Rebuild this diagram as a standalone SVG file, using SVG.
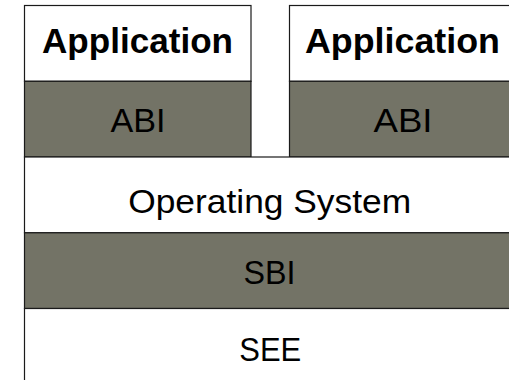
<svg xmlns="http://www.w3.org/2000/svg" width="509" height="380" viewBox="0 0 509 380">
  <style>
    .box { stroke: #1a1a1a; stroke-width: 1.2; }
    .light { fill: #ffffff; }
    .dark { fill: #737366; }
    text { font-family: "Liberation Sans", "DejaVu Sans", sans-serif; fill: #000; text-anchor: middle; }
    .title { font-weight: bold; font-size: 35px; }
    .label { font-size: 33px; }
  </style>

  <!-- left application stack -->
  <g id="app-left">
    <rect class="box light" x="24.5" y="5.5" width="226.5" height="75.8"/>
    <text class="title" x="137.5" y="53" textLength="191" lengthAdjust="spacingAndGlyphs">Application</text>
  </g>
  <g id="abi-left">
    <rect class="box dark" x="24.5" y="81.3" width="226.5" height="75.7"/>
    <text class="label" x="138" y="131.5" textLength="55" lengthAdjust="spacingAndGlyphs">ABI</text>
  </g>

  <!-- right application stack (runs past the right edge) -->
  <g id="app-right">
    <rect class="box light" x="289.5" y="5.5" width="227" height="75.8"/>
    <text class="title" x="402.5" y="53" textLength="195" lengthAdjust="spacingAndGlyphs">Application</text>
  </g>
  <g id="abi-right">
    <rect class="box dark" x="289.5" y="81.3" width="227" height="75.7"/>
    <text class="label" x="403" y="131.5" textLength="59" lengthAdjust="spacingAndGlyphs">ABI</text>
  </g>

  <!-- shared layers -->
  <g id="os">
    <rect class="box light" x="24.5" y="157" width="492" height="75.8"/>
    <text class="label" x="269.7" y="213" textLength="283" lengthAdjust="spacingAndGlyphs">Operating System</text>
  </g>
  <g id="sbi">
    <rect class="box dark" x="24.5" y="232.8" width="492" height="75.7"/>
    <text class="label" x="269.5" y="283.5" textLength="52" lengthAdjust="spacingAndGlyphs">SBI</text>
  </g>
  <g id="see">
    <rect class="box light" x="24.5" y="308.5" width="492" height="80"/>
    <text class="label" x="270.3" y="360.5" textLength="62" lengthAdjust="spacingAndGlyphs">SEE</text>
  </g>

  <g id="connectors"/>
</svg>
